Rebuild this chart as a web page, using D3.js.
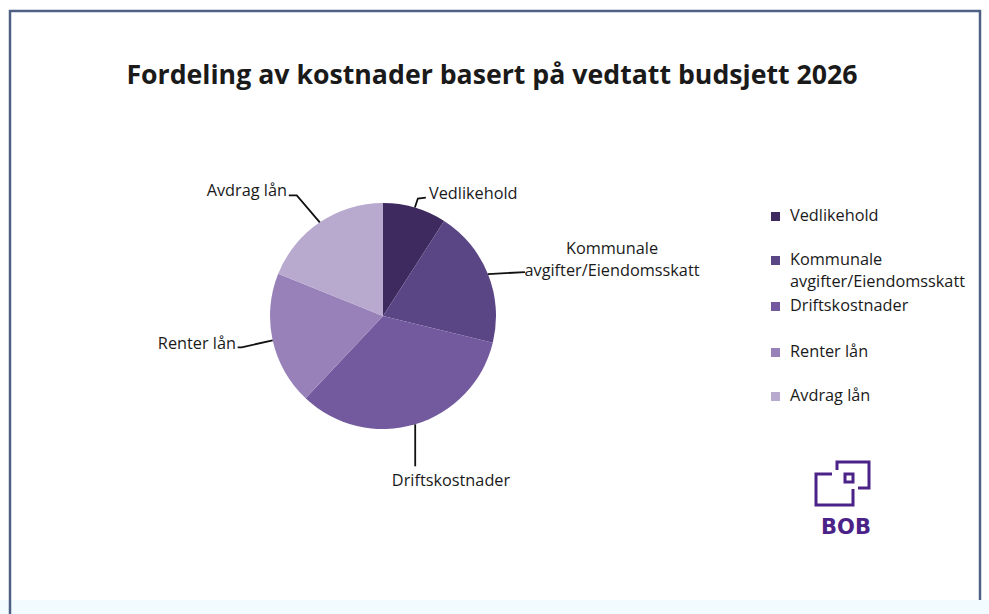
<!DOCTYPE html>
<html>
<head>
<meta charset="utf-8">
<script src="https://cdn.jsdelivr.net/npm/d3@7"></script>
<style>
  body { margin: 0; background: #fff; }
  text { font-family: "Open Sans", "Noto Sans", sans-serif; fill: #1a1a1a; }
</style>
</head>
<body>
<script>
// data (share of budget, %)
var categories = ["Vedlikehold", "Kommunale avgifter/Eiendomsskatt", "Driftskostnader", "Renter lån", "Avdrag lån"];
var values = [9.1, 19.7, 33.2, 19.1, 18.9];
var colors = ["#3e2a5e", "#5a4585", "#735a9e", "#9880b8", "#b8a9cf"];
// label text lines for the slice labels / legend
var labelLines = [["Vedlikehold"], ["Kommunale", "avgifter/Eiendomsskatt"], ["Driftskostnader"], ["Renter lån"], ["Avdrag lån"]];

var width = 989,
    height = 614;

var svg = d3.select("body")
    .append("svg")
    .attr("width", width)
    .attr("height", height);

// frame
svg.append("rect")
    .attr("x", 0).attr("y", 600).attr("width", width).attr("height", 14)
    .attr("fill", "#f2fbff");
svg.append("path")
    .attr("d", "M10,614 V11 H980 V600")
    .attr("fill", "none")
    .attr("stroke", "#4e6185")
    .attr("stroke-width", 2.5);

svg.append("text")
    .attr("x", 492)
    .attr("y", 84)
    .attr("text-anchor", "middle")
    .style("font-size", "26.7px")
    .style("font-weight", "bold")
    .text("Fordeling av kostnader basert på vedtatt budsjett 2026");

var cx = 383, cy = 316, r = 113;

var pie = d3.pie().sort(null).value(function(d) { return d; });
var arc = d3.arc().innerRadius(0).outerRadius(r);
var arcs = pie(values);

var g = svg.append("g").attr("transform", "translate(" + cx + "," + cy + ")");

g.selectAll("path")
    .data(arcs)
    .enter()
    .append("path")
    .attr("fill", function(d, i) { return colors[i]; })
    .attr("d", arc);

// label layout: leader points (relative to the edge point) and text anchor
var labelLayout = [
    { via: [[3, -9], [11, -10]], tx: 429, ty: 199, anchor: "start" },
    { via: [[37, -2]], tx: 612, ty: 254, anchor: "middle" },
    { via: [[0, 42]], tx: 451, ty: 486, anchor: "middle" },
    { via: [[-31, 7], [-35, 7]], tx: 236, ty: 349, anchor: "end" },
    { via: [[-23, -27], [-31, -27]], tx: 287, ty: 196, anchor: "end" }
];

var labels = svg.append("g");

arcs.forEach(function(d, i) {
    var mid = (d.startAngle + d.endAngle) / 2;
    var px = cx + r * Math.sin(mid),
        py = cy - r * Math.cos(mid);
    var lay = labelLayout[i];
    var pts = [[px, py]].concat(lay.via.map(function(v) { return [px + v[0], py + v[1]]; }));

    labels.append("path")
        .attr("d", d3.line()(pts))
        .attr("fill", "none")
        .attr("stroke", "#111")
        .attr("stroke-width", 1.8);

    var t = labels.append("text")
        .attr("x", lay.tx)
        .attr("y", lay.ty)
        .attr("text-anchor", lay.anchor)
        .style("font-size", "16.3px");
    labelLines[i].forEach(function(line, j) {
        t.append("tspan")
            .attr("x", lay.tx)
            .attr("dy", j === 0 ? 0 : 22)
            .text(line);
    });
});

// legend
var legendY = [216, 260, 306, 352, 396];
var legend = svg.append("g");

categories.forEach(function(c, i) {
    legend.append("rect")
        .attr("x", 771)
        .attr("y", legendY[i] - 4)
        .attr("width", 9)
        .attr("height", 9)
        .attr("fill", colors[i]);
    var t = legend.append("text")
        .attr("x", 790)
        .attr("y", legendY[i] + 5)
        .style("font-size", "16.3px");
    labelLines[i].forEach(function(line, j) {
        t.append("tspan")
            .attr("x", 790)
            .attr("dy", j === 0 ? 0 : 22)
            .text(line);
    });
});

// BOB logo
var logo = svg.append("g")
    .attr("fill", "none")
    .attr("stroke", "#4b2288")
    .attr("stroke-width", 3);
logo.append("path").attr("d", "M832,474 H816 V505 H853 V489");
logo.append("path").attr("d", "M837,470 V462 H869 V488 H858");
logo.append("rect").attr("x", 845).attr("y", 474).attr("width", 8).attr("height", 8);

svg.append("text")
    .attr("x", 846)
    .attr("y", 534)
    .attr("text-anchor", "middle")
    .style("font-family", "'DejaVu Sans', sans-serif")
    .style("font-size", "21px")
    .style("font-weight", "bold")
    .style("fill", "#4b2288")
    .text("BOB");
</script>
</body>
</html>
